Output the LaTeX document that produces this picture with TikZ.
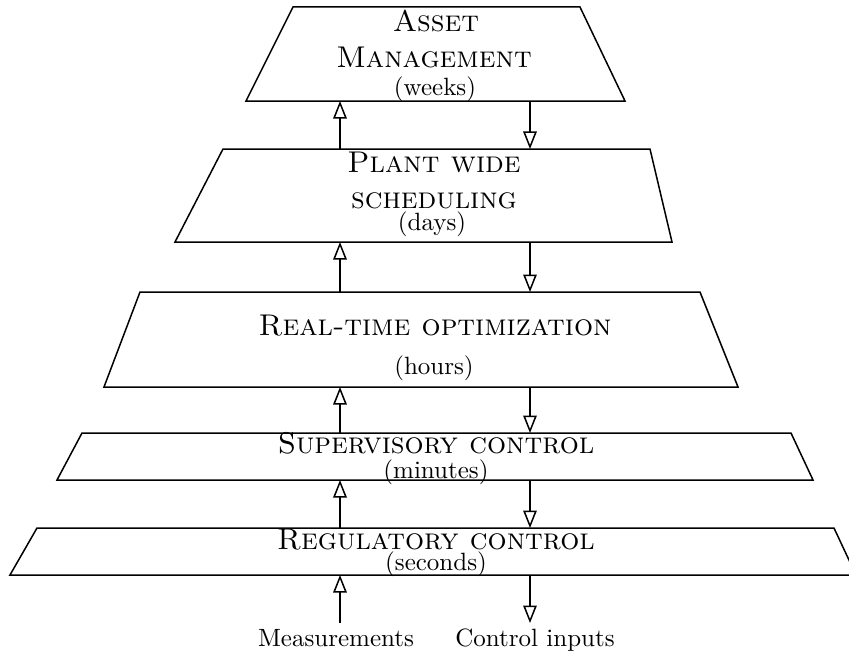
\documentclass[tikz,border=0pt]{standalone}
\usetikzlibrary{arrows.meta}
\begin{document}
\begin{tikzpicture}[x=0.4pt,y=-0.4pt,
  level/.style={draw, line width=0.6pt, line join=miter},
  flow/.style={line width=0.6pt, -{Triangle[open,length=7pt,width=5.4pt]}},
  ttl/.style={anchor=base, font=\large\scshape, inner sep=0pt, text depth=0pt},
  span/.style={anchor=base, font=\normalsize, inner sep=0pt}]
\useasboundingbox (0,0) rectangle (849,653);

% the five levels of the hierarchy, top to bottom
\draw[level] (293,7) -- (580,7) -- (625,101) -- (246,101) -- cycle;
\draw[level] (223,149) -- (650,149) -- (672,242) -- (175,242) -- cycle;
\draw[level] (140,292) -- (700,292) -- (738,387) -- (104,387) -- cycle;
\draw[level] (82,433) -- (791,433) -- (813,480) -- (57,480) -- cycle;
\draw[level] (37,528) -- (834,528) -- (856,575) -- (10,575) -- cycle;

% labels of the levels
\node[ttl] (am1) at (436,32) {Asset};
\node[ttl] (am2) at (434,68) {Management};
\node[span] (am3) at (435,95) {(weeks)};

\node[ttl] (ps1) at (434,173) {Plant wide};
\node[ttl] (ps2) at (434,208) {scheduling};
\node[span] (ps3) at (432,230) {(days)};

\node[ttl] (rt1) at (435,335) {Real-time optimization};
\node[span] (rt2) at (434,375) {(hours)};

\node[ttl] (sc1) at (436,453) {Supervisory control};
\node[span] (sc2) at (436,478) {(minutes)};

\node[ttl] (rc1) at (436,549) {Regulatory control};
\node[span] (rc2) at (436,570) {(seconds)};

% attachment points of the connectors
\foreach \n/\y in {1/101,2/149,3/242,4/292,5/387,6/433,7/480,8/528,9/575,10/623}{
  \coordinate (u\n) at (340,\y);
  \coordinate (d\n) at (530,\y);
}

% information flowing up, decisions flowing down
\draw[flow] (u2) -- (u1);
\draw[flow] (d1) -- (d2);
\draw[flow] (u4) -- (u3);
\draw[flow] (d3) -- (d4);
\draw[flow] (u6) -- (u5);
\draw[flow] (d5) -- (d6);
\draw[flow] (u8) -- (u7);
\draw[flow] (d7) -- (d8);
\draw[flow] (u10) -- (u9);
\draw[flow] (d9) -- (d10);

\node[span] (meas) at (336,647) {Measurements};
\node[span] (ctrl) at (535,647) {Control inputs};
\end{tikzpicture}
\end{document}
